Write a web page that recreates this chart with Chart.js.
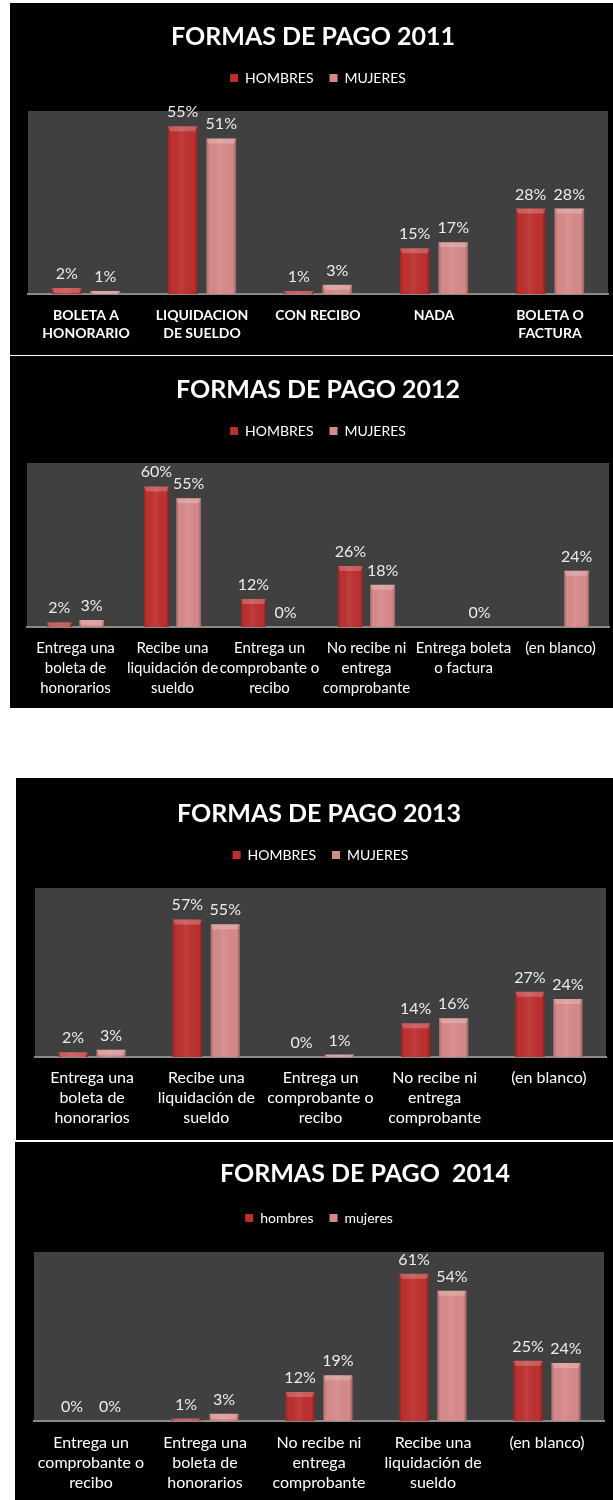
<!DOCTYPE html>
<html><head><meta charset="utf-8">
<script src="https://cdn.jsdelivr.net/npm/chart.js@4.4.0/dist/chart.umd.min.js"></script>
<style>
html,body{margin:0;padding:0;background:#fff;}
body{width:613px;height:1500px;position:relative;overflow:hidden;font-family:Lato,sans-serif;}
.panel{position:absolute;background:#000;overflow:hidden;}
.panel canvas{position:absolute;left:0;top:0;}
.title{position:absolute;width:600px;text-align:center;color:#fff;font-family:Lato,sans-serif;font-weight:bold;font-size:25px;white-space:pre;height:30px;line-height:30px;z-index:2;}
</style></head><body>
<div class="panel" style="left:10px;top:3px;width:603px;height:352px"><div class="title" style="left:3px;top:17px">FORMAS DE PAGO 2011</div><canvas id="c1" width="603" height="352"></canvas></div>
<div class="panel" style="left:10px;top:356px;width:603px;height:352px"><div class="title" style="left:8px;top:17px">FORMAS DE PAGO 2012</div><canvas id="c2" width="603" height="352"></canvas></div>
<div class="panel" style="left:16px;top:778px;width:597px;height:362px"><div class="title" style="left:3px;top:19px">FORMAS DE PAGO 2013</div><canvas id="c3" width="597" height="362"></canvas></div>
<div class="panel" style="left:15px;top:1142px;width:598px;height:358px"><div class="title" style="left:50px;top:15px">FORMAS DE PAGO  2014</div><canvas id="c4" width="598" height="358"></canvas></div>
<script>
// ---- data ----
const categories2011 = [['BOLETA A','HONORARIO'],['LIQUIDACION','DE SUELDO'],['CON RECIBO'],['NADA'],['BOLETA O','FACTURA']];
const hombres2011 = [2, 55, 1, 15, 28];
const mujeres2011 = [1, 51, 3, 17, 28];

const categories2012 = [['Entrega una','boleta de','honorarios'],['Recibe una','liquidación de','sueldo'],['Entrega un','comprobante o','recibo'],['No recibe ni','entrega','comprobante'],['Entrega boleta','o factura'],['(en blanco)']];
const hombres2012 = [2, 60, 12, 26, null, null];
const mujeres2012 = [3, 55, 0, 18, 0, 24];

const categories2013 = [['Entrega una','boleta de','honorarios'],['Recibe una','liquidación de','sueldo'],['Entrega un','comprobante o','recibo'],['No recibe ni','entrega','comprobante'],['(en blanco)']];
const hombres2013 = [2, 57, 0, 14, 27];
const mujeres2013 = [3, 55, 1, 16, 24];

const categories2014 = [['Entrega un','comprobante o','recibo'],['Entrega una','boleta de','honorarios'],['No recibe ni','entrega','comprobante'],['Recibe una','liquidación de','sueldo'],['(en blanco)']];
const hombres2014 = [0, 1, 12, 61, 25];
const mujeres2014 = [0, 3, 19, 54, 24];

const seriesUpper = ['HOMBRES','MUJERES'];
const seriesLower = ['hombres','mujeres'];

// ---- plugins ----
const plotBg = {
  id:'plotBg',
  beforeDraw(chart){
    const {ctx, chartArea:a} = chart;
    ctx.save(); ctx.fillStyle = '#404040';
    ctx.fillRect(a.left, a.top, a.right - a.left, a.bottom - a.top);
    ctx.restore();
  }
};
const barShade = {
  id:'barShade',
  afterDatasetsDraw(chart){
    const ctx = chart.ctx;
    ctx.save();
    chart.data.datasets.forEach((ds,i)=>{
      chart.getDatasetMeta(i).data.forEach(el=>{
        const {x,y,base,width} = el.getProps(['x','y','base','width'], true);
        const h = base - y; if (!(h > 0)) return;
        const left = x - width/2;
        const g = ctx.createLinearGradient(left,0,left+width,0);
        g.addColorStop(0,'rgba(0,0,0,0.20)');
        g.addColorStop(0.12,'rgba(0,0,0,0)');
        g.addColorStop(0.45,'rgba(255,255,255,0.07)');
        g.addColorStop(0.88,'rgba(0,0,0,0)');
        g.addColorStop(1,'rgba(0,0,0,0.28)');
        ctx.fillStyle = g; ctx.fillRect(left, y, width, h);
        const bh = Math.min(5, h);
        ctx.fillStyle = 'rgba(255,255,255,0.22)';
        ctx.beginPath();
        ctx.moveTo(left, y); ctx.lineTo(left+width, y);
        ctx.lineTo(left+width-2, y+bh); ctx.lineTo(left+2, y+bh); ctx.closePath(); ctx.fill();
      });
    });
    ctx.restore();
  }
};
const valueLabels = {
  id:'valueLabels',
  afterDatasetsDraw(chart){
    const ctx = chart.ctx;
    ctx.save();
    ctx.font = '16px Lato'; ctx.fillStyle = '#ececec';
    ctx.textAlign = 'center'; ctx.textBaseline = 'alphabetic';
    chart.data.datasets.forEach((ds,i)=>{
      chart.getDatasetMeta(i).data.forEach((el,j)=>{
        const v = ds.data[j];
        if (v === null || v === undefined) return;
        ctx.fillText(v + '%', el.x, el.y - 9);
      });
    });
    ctx.restore();
  }
};

function makeChart(id, cats, hombres, mujeres, names, opt){
  new Chart(document.getElementById(id), {
    type:'bar',
    data:{
      labels: cats,
      datasets:[
        {label:names[0], data:hombres, backgroundColor:'#bd3030', borderWidth:0, categoryPercentage:0.665, barPercentage:0.77},
        {label:names[1], data:mujeres, backgroundColor:'#d68a8a', borderWidth:0, categoryPercentage:0.665, barPercentage:0.77}
      ]
    },
    options:{
      responsive:false, animation:false,
      layout:{padding:{top:opt.top, left:opt.left, right:opt.right, bottom:0}},
      plugins:{
        title:{display:false},
        tooltip:{enabled:false},
        legend:{position:'top', align:'center',
          labels:{color:'#ffffff', font:{family:'Lato', size:14}, boxWidth:8, boxHeight:8, padding:16}}
      },
      scales:{
        x:{
          grid:{display:false, drawTicks:false},
          border:{display:true, color:'#8a8a8a', width:2},
          ticks:{color:'#ffffff', font:{family:'Lato', size:opt.tickSize, weight:opt.tickWeight, lineHeight:opt.lineH+'px'},
                 padding:opt.tickPad, maxRotation:0, minRotation:0, autoSkip:false},
          afterFit(s){ s.height = opt.xh; }
        },
        xTop:{
          type:'category', position:'top', display:true,
          grid:{display:false, drawTicks:false}, border:{display:false}, ticks:{display:false},
          afterFit(s){ s.height = opt.spacer; }
        },
        y:{display:false, min:0, max:opt.ymax}
      }
    },
    plugins:[plotBg, barShade, valueLabels]
  });
}

makeChart('c1', categories2011, hombres2011, mujeres2011, seriesUpper,
  {top:52, left:18, right:5, spacer:16, xh:61, ymax:60, tickSize:14, tickWeight:'bold', lineH:18, tickPad:12});
makeChart('c2', categories2012, hombres2012, mujeres2012, seriesUpper,
  {top:52, left:17, right:4, spacer:15, xh:81, ymax:70, tickSize:15, tickWeight:'normal', lineH:20, tickPad:11});
makeChart('c3', categories2013, hombres2013, mujeres2013, seriesUpper,
  {top:54, left:19, right:7, spacer:16, xh:83, ymax:70, tickSize:16, tickWeight:'normal', lineH:20, tickPad:11});
makeChart('c4', categories2014, hombres2014, mujeres2014, seriesLower,
  {top:53, left:19, right:9, spacer:17, xh:79, ymax:70, tickSize:16, tickWeight:'normal', lineH:20, tickPad:12});
</script>
</body></html>
